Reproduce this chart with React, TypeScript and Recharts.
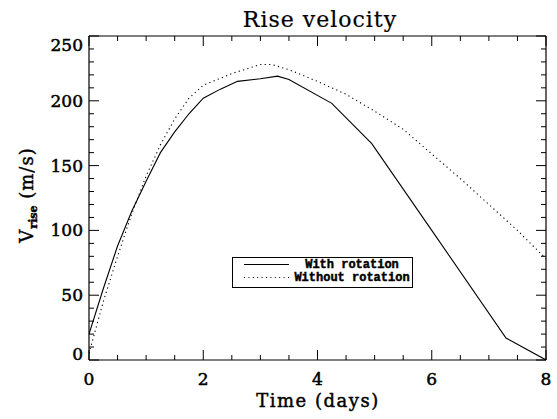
import React from 'react';
import { LineChart, Line, XAxis, YAxis, Legend, Customized } from 'recharts';

// ---- data ----
const withRotationT = [0, 0.25, 0.5, 0.75, 1.0, 1.25, 1.5, 1.75, 2.0, 2.3, 2.6, 3.0, 3.3, 3.5, 4.25, 4.95, 6.0, 7.3, 8.0];
const withRotationV = [20, 55, 88, 115, 138, 160, 176, 190, 202, 209, 215, 217, 219, 216.5, 198, 167, 100, 17, 0];

const withoutRotationT = [0, 0.25, 0.5, 0.75, 1.0, 1.25, 1.5, 1.75, 2.0, 2.5, 3.0, 3.2, 3.5, 4.0, 4.5, 5.0, 5.5, 6.0, 6.5, 7.0, 7.5, 8.0];
const withoutRotationV = [5, 45, 80, 113, 142, 166, 186, 202, 212, 221, 228, 228, 224, 215, 205, 192, 178, 159, 140, 120, 100, 78];

const xTicks = [0, 0.5, 1, 1.5, 2, 2.5, 3, 3.5, 4, 4.5, 5, 5.5, 6, 6.5, 7, 7.5, 8];
const yTicks = [0, 10, 20, 30, 40, 50, 60, 70, 80, 90, 100, 110, 120, 130, 140, 150, 160, 170, 180, 190, 200, 210, 220, 230, 240, 250];

const titleText = 'Rise velocity';
const xLabel = 'Time (days)';
const yLabelMain = 'V';
const yLabelSub = 'rise';
const yLabelUnit = ' (m/s)';

const legendItems = [
  { name: 'With rotation', dash: undefined as string | undefined },
  { name: 'Without rotation', dash: '1 3.4' },
];

const withData = withRotationT.map((t, i) => ({ t, v: withRotationV[i] }));
const withoutData = withoutRotationT.map((t, i) => ({ t, v: withoutRotationV[i] }));

const FONT = '"DejaVu Serif", serif';

const isMajorX = (v: number) => Math.abs(v / 2 - Math.round(v / 2)) < 1e-6;
const isMajorY = (v: number) => Math.abs(v / 50 - Math.round(v / 50)) < 1e-6;

const BottomTick = (props: any) => {
  const { x, y, payload } = props;
  const v = payload.value;
  const major = isMajorX(v);
  return (
    <g>
      <line x1={x} x2={x} y1={y} y2={y - (major ? 10 : 5)} stroke="#000" strokeWidth={1} />
      {major && (
        <text x={x} y={y + 25} textAnchor="middle" fontFamily={FONT} fontSize={17} fill="#000" stroke="#000" strokeWidth={0.5}>
          {v}
        </text>
      )}
    </g>
  );
};

const TopTick = (props: any) => {
  const { x, y, payload } = props;
  const major = isMajorX(payload.value);
  return <line x1={x} x2={x} y1={y} y2={y + (major ? 10 : 5)} stroke="#000" strokeWidth={1} />;
};

const LeftTick = (props: any) => {
  const { x, y, payload } = props;
  const v = payload.value;
  const major = isMajorY(v);
  const dy = v === 0 ? -6 : v === 250 ? 9 : 0;
  return (
    <g>
      <line x1={x} x2={x + (major ? 10 : 5)} y1={y} y2={y} stroke="#000" strokeWidth={1} />
      {major && (
        <text x={x - 6} y={y + dy + 6} textAnchor="end" fontFamily={FONT} fontSize={17} fill="#000" stroke="#000" strokeWidth={0.5}>
          {v}
        </text>
      )}
    </g>
  );
};

const RightTick = (props: any) => {
  const { x, y, payload } = props;
  const major = isMajorY(payload.value);
  return <line x1={x} x2={x - (major ? 10 : 5)} y1={y} y2={y} stroke="#000" strokeWidth={1} />;
};

const Texts = () => (
  <g>
    <text x={320} y={27} textAnchor="middle" fontFamily={FONT} fontSize={22} letterSpacing={1} fill="#000" stroke="#000" strokeWidth={0.2}>
      {titleText}
    </text>
    <text x={318} y={407} textAnchor="middle" fontFamily={FONT} fontSize={18} letterSpacing={1.5} fill="#000" stroke="#000" strokeWidth={0.45}>
      {xLabel}
    </text>
    <text
      x={33}
      y={195}
      transform="rotate(-90 33 195)"
      textAnchor="middle"
      fontFamily={FONT}
      fontSize={18}
      letterSpacing={1}
      fill="#000"
      stroke="#000"
      strokeWidth={0.45}
    >
      {yLabelMain}
      <tspan fontSize={11} fontWeight="bold" dy={4} letterSpacing={0}>{yLabelSub}</tspan>
      <tspan dy={-4}>{yLabelUnit}</tspan>
    </text>
  </g>
);

const LegendBox = () => (
  <svg width={181} height={31} style={{ display: 'block' }}>
    <rect x={0.5} y={0.5} width={180} height={30} fill="#fff" stroke="#000" strokeWidth={1} />
    {legendItems.map((it, i) => (
      <g key={it.name}>
        <line x1={12} x2={57} y1={7.5 + i * 13} y2={7.5 + i * 13} stroke="#000" strokeWidth={1} strokeDasharray={it.dash} />
        <text
          x={120}
          y={11 + i * 13}
          textAnchor="middle"
          fontFamily='"Liberation Mono", monospace'
          fontWeight="bold"
          fontSize={12}
          fill="#000"
          stroke="#000"
          strokeWidth={0.45}
        >
          {it.name}
        </text>
      </g>
    ))}
  </svg>
);

export default function App() {
  return (
    <div style={{ position: 'absolute', left: 0, top: 0, background: '#fff' }}>
      <LineChart width={557} height={419} margin={{ top: 26, right: 6, bottom: 29, left: 29 }}>
        <XAxis
          xAxisId="b"
          dataKey="t"
          type="number"
          domain={[0, 8]}
          ticks={xTicks}
          interval={0}
          tickSize={0}
          tickMargin={0}
          tickLine={false}
          tick={<BottomTick />}
          height={30}
          axisLine={{ stroke: '#000', strokeWidth: 1.2 }}
          allowDataOverflow
        />
        <XAxis
          xAxisId="t"
          orientation="top"
          dataKey="t"
          type="number"
          domain={[0, 8]}
          ticks={xTicks}
          interval={0}
          tickSize={0}
          tickMargin={0}
          tickLine={false}
          tick={<TopTick />}
          height={10}
          axisLine={{ stroke: '#000', strokeWidth: 1.2 }}
          allowDataOverflow
        />
        <YAxis
          yAxisId="l"
          type="number"
          domain={[0, 250]}
          ticks={yTicks}
          interval={0}
          tickSize={0}
          tickMargin={0}
          tickLine={false}
          tick={<LeftTick />}
          width={60}
          axisLine={{ stroke: '#000', strokeWidth: 1.2 }}
          allowDataOverflow
        />
        <YAxis
          yAxisId="r"
          orientation="right"
          type="number"
          domain={[0, 250]}
          ticks={yTicks}
          interval={0}
          tickSize={0}
          tickMargin={0}
          tickLine={false}
          tick={<RightTick />}
          width={5}
          axisLine={{ stroke: '#000', strokeWidth: 1.2 }}
          allowDataOverflow
        />
        <Line
          xAxisId="b"
          yAxisId="l"
          data={withData}
          dataKey="v"
          name="With rotation"
          stroke="#000"
          strokeWidth={1.1}
          dot={false}
          isAnimationActive={false}
        />
        <Line
          xAxisId="b"
          yAxisId="l"
          data={withoutData}
          dataKey="v"
          name="Without rotation"
          stroke="#000"
          strokeWidth={1.1}
          strokeDasharray="1.2 3.3"
          dot={false}
          isAnimationActive={false}
        />
        <Legend
          verticalAlign="middle"
          align="center"
          layout="horizontal"
          content={<LegendBox />}
          wrapperStyle={{ left: 232, top: 257, width: 181, height: 31 }}
        />
        <Customized component={<Texts />} />
      </LineChart>
    </div>
  );
}
